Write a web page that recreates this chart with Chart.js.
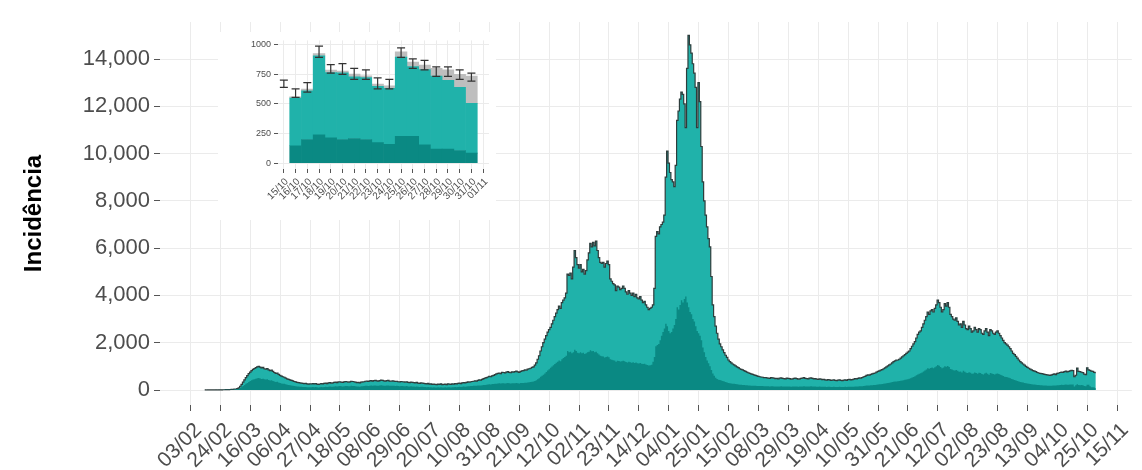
<!DOCTYPE html>
<html>
<head>
<meta charset="utf-8">
<script src="https://cdn.jsdelivr.net/npm/chart.js@4.4.1/dist/chart.umd.min.js"></script>
<style>
  html, body { margin: 0; padding: 0; background: #fff; }
  #wrap { position: relative; width: 1142px; height: 470px; overflow: hidden; }
  #main { position: absolute; left: 0; top: 0; }
  #inset { position: absolute; left: 218px; top: 32px; background: #fff; }
</style>
</head>
<body>
<div id="wrap">
  <canvas id="main" width="1142" height="470"></canvas>
  <canvas id="inset" width="278" height="188"></canvas>
</div>
<script>
// x axis counts days from 03/02/2020; one labelled tick every 3 weeks
const TICK_LABELS = ["03/02", "24/02", "16/03", "06/04", "27/04", "18/05", "08/06", "29/06", "20/07", "10/08",
  "31/08", "21/09", "12/10", "02/11", "23/11", "14/12", "04/01", "25/01", "15/02", "08/03", "29/03", "19/04",
  "10/05", "31/05", "21/06", "12/07", "02/08", "23/08", "13/09", "04/10", "25/10", "15/11"];
const TICK_STEP = 21;
const Y_TICKS = [0, 2000, 4000, 6000, 8000, 10000, 12000, 14000];
const FIRST_DAY = 10; // 13/02/2020

// daily incidence, total height of each bar (one row = one week)
const TOTAL = [
  2, 1, 3, 2, 4, 3, 5,
  4, 6, 5, 8, 7, 9, 10,
  12, 15, 14, 18, 22, 25, 30,
  35, 42, 55, 90, 160, 240, 330,
  430, 520, 610, 690, 760, 820, 870,
  910, 950, 980, 1000, 970, 940, 960,
  900, 880, 910, 850, 820, 840, 790,
  740, 700, 720, 660, 620, 590, 560,
  540, 500, 470, 450, 430, 410, 390,
  360, 340, 320, 310, 300, 290, 280,
  270, 280, 260, 250, 265, 255, 270,
  260, 275, 250, 240, 255, 270, 260,
  280, 290, 270, 300, 310, 290, 300,
  320, 330, 310, 340, 350, 330, 320,
  340, 360, 350, 330, 340, 370, 360,
  350, 330, 310, 320, 300, 330, 340,
  350, 370, 380, 360, 390, 400, 380,
  400, 410, 390, 380, 400, 420, 410,
  390, 380, 400, 410, 380, 370, 390,
  380, 360, 370, 350, 340, 360, 350,
  340, 330, 350, 320, 310, 330, 320,
  310, 300, 320, 290, 280, 300, 290,
  280, 270, 260, 280, 250, 260, 240,
  250, 240, 230, 250, 240, 260, 230,
  240, 250, 230, 260, 250, 240, 260,
  250, 270, 260, 280, 290, 270, 300,
  310, 300, 320, 340, 330, 350, 360,
  370, 390, 380, 410, 430, 420, 450,
  480, 500, 520, 550, 580, 560, 600,
  620, 650, 680, 700, 720, 690, 750,
  740, 720, 760, 780, 750, 730, 770,
  760, 780, 800, 770, 750, 790, 810,
  820, 850, 840, 880, 900, 920, 960,
  980, 1050, 1150, 1300, 1450, 1650, 1830,
  2000, 2150, 2300, 2450, 2550, 2650, 2800,
  2950, 3100, 3250, 3400, 3550, 3450, 3700,
  3800, 3900, 4100, 4900, 4850, 4950, 4700,
  5200, 5900, 5600, 5300, 5150, 5300, 5000,
  5100, 4900, 5050, 5500, 5800, 6200, 6050,
  6250, 6100, 6300, 5900, 5600, 5400, 5350,
  5400, 5200, 5350, 5450, 5300, 4700, 4600,
  4500, 4450, 4200, 4400, 4350, 4250, 4300,
  4400, 4300, 4150, 4050, 4200, 4100, 4000,
  4100, 3950, 4050, 3900, 3850, 3950, 3800,
  3700, 3750, 3600, 3500, 3400, 3450, 3500,
  3600, 4300, 6500, 6700, 6600, 6900, 7000,
  7100, 7400, 9000, 10100, 9600, 9200, 8900,
  8800, 8600, 9500, 11400, 11800, 12300, 12600,
  12500, 12100, 11100, 13600, 15000, 14600, 14250,
  13800, 13400, 12800, 11100, 13000, 12200, 10300,
  8800, 8000, 7400, 6900, 6400, 6050, 4800,
  3600, 3100, 2700, 2400, 2150, 1950, 1830,
  1700, 1580, 1470, 1380, 1270, 1200, 1150,
  1100, 1060, 1020, 980, 950, 900, 870,
  850, 820, 790, 760, 730, 700, 680,
  660, 640, 620, 600, 580, 560, 550,
  540, 520, 530, 510, 500, 490, 520,
  510, 500, 480, 490, 470, 500, 510,
  490, 480, 470, 500, 490, 480, 460,
  470, 490, 500, 480, 460, 470, 490,
  500, 520, 490, 480, 470, 500, 510,
  490, 470, 480, 460, 450, 470, 460,
  440, 450, 430, 420, 440, 430, 410,
  420, 430, 410, 400, 420, 430, 410,
  400, 420, 430, 410, 440, 450, 430,
  440, 460, 480, 470, 490, 510, 500,
  530, 560, 580, 620, 640, 630, 660,
  680, 700, 720, 760, 790, 810, 840,
  860, 900, 940, 980, 1020, 1060, 1100,
  1150, 1200, 1230, 1260, 1270, 1300, 1350,
  1400, 1450, 1500, 1550, 1600, 1650, 1750,
  1850, 1950, 2050, 2200, 2350, 2450, 2500,
  2650, 2800, 2950, 3100, 3300, 3200, 3350,
  3400, 3300, 3450, 3600, 3800, 3700, 3500,
  3300, 3400, 3650, 3550, 3700, 3500, 3200,
  3100, 3000, 2950, 3050, 2900, 2750, 2800,
  2650, 2900, 2750, 2600, 2550, 2700, 2600,
  2450, 2500, 2650, 2550, 2450, 2600, 2550,
  2400, 2350, 2500, 2600, 2450, 2300, 2550,
  2500, 2400, 2350, 2450, 2500, 2400, 2300,
  2200, 2100, 2000, 1950, 1900, 1830, 1750,
  1650, 1550, 1500, 1420, 1350, 1270, 1200,
  1150, 1100, 1050, 1000, 960, 920, 880,
  850, 820, 800, 780, 740, 720, 700,
  690, 680, 660, 650, 640, 630, 620,
  640, 660, 680, 650, 700, 720, 740,
  760, 740, 780, 800, 770, 790, 810,
  830, 820, 560, 625, 925, 785, 778,
  752, 738, 668, 652, 940, 853, 828,
  800, 787, 750, 735
];

// daily incidence, darker bottom part of each bar
const DARK = [
  1, 0, 1, 1, 2, 1, 2,
  2, 3, 2, 4, 3, 4, 5,
  6, 7, 7, 9, 11, 12, 15,
  17, 21, 27, 45, 80, 120, 165,
  215, 260, 300, 340, 380, 410, 440,
  460, 480, 500, 510, 490, 470, 480,
  450, 440, 450, 420, 400, 410, 380,
  360, 340, 350, 320, 300, 280, 270,
  260, 240, 225, 215, 205, 195, 185,
  170, 160, 150, 145, 140, 135, 130,
  125, 130, 120, 115, 122, 118, 125,
  120, 128, 115, 110, 118, 125, 120,
  130, 135, 125, 140, 145, 135, 140,
  150, 155, 145, 160, 165, 155, 150,
  160, 170, 165, 155, 160, 175, 170,
  165, 155, 145, 150, 140, 155, 160,
  165, 175, 180, 170, 185, 190, 180,
  190, 195, 185, 180, 190, 200, 195,
  185, 180, 190, 195, 180, 175, 185,
  180, 170, 175, 165, 160, 170, 165,
  160, 155, 165, 150, 145, 155, 150,
  145, 140, 150, 135, 130, 140, 135,
  130, 125, 120, 130, 115, 120, 110,
  115, 110, 105, 115, 110, 120, 105,
  110, 115, 105, 120, 115, 110, 120,
  115, 125, 120, 130, 135, 125, 140,
  145, 140, 150, 160, 155, 165, 170,
  175, 180, 175, 190, 195, 190, 200,
  210, 215, 220, 230, 240, 235, 250,
  255, 265, 270, 280, 285, 275, 290,
  285, 280, 290, 295, 285, 280, 290,
  285, 290, 300, 290, 280, 295, 300,
  300, 310, 305, 320, 330, 335, 350,
  360, 380, 410, 450, 500, 560, 600,
  650, 700, 760, 820, 880, 940, 990,
  1050, 1100, 1150, 1200, 1250, 1220, 1300,
  1350, 1400, 1450, 1650, 1600, 1620, 1550,
  1600, 1700, 1650, 1580, 1560, 1600, 1550,
  1580, 1520, 1560, 1600, 1620, 1680, 1640,
  1650, 1600, 1620, 1560, 1500, 1450, 1430,
  1420, 1380, 1400, 1420, 1390, 1300, 1280,
  1260, 1250, 1200, 1240, 1230, 1210, 1220,
  1240, 1220, 1180, 1160, 1190, 1170, 1150,
  1170, 1140, 1160, 1130, 1120, 1140, 1110,
  1100, 1110, 1080, 1060, 1040, 1050, 1070,
  1200, 1400, 1850, 1900, 1950, 2100, 2300,
  2450, 2600, 2800, 2700, 2500, 2400, 2450,
  2600, 2750, 3000, 3500, 3400, 3600, 3800,
  3700, 3850, 3950, 3700, 3500, 3300, 3200,
  3000, 2900, 2700, 2500, 2400, 2300, 2100,
  1800, 1600, 1400, 1250, 1130, 1000, 850,
  700, 600, 520, 470, 430, 420, 400,
  380, 360, 340, 320, 300, 290, 280,
  270, 260, 250, 240, 230, 225, 220,
  215, 210, 205, 200, 195, 190, 185,
  180, 178, 175, 172, 170, 168, 165,
  165, 160, 162, 158, 155, 150, 158,
  155, 152, 148, 150, 145, 152, 155,
  150, 148, 145, 152, 150, 147, 142,
  145, 150, 152, 148, 142, 145, 150,
  152, 158, 150, 148, 145, 152, 155,
  150, 145, 148, 142, 140, 145, 142,
  138, 140, 135, 132, 138, 135, 130,
  132, 135, 130, 128, 132, 135, 130,
  128, 132, 135, 130, 138, 140, 135,
  138, 142, 148, 145, 150, 156, 154,
  162, 170, 176, 186, 192, 190, 198,
  204, 210, 216, 226, 234, 240, 248,
  254, 265, 276, 288, 298, 310, 320,
  334, 348, 356, 364, 368, 376, 390,
  405, 418, 432, 446, 460, 474, 500,
  528, 555, 582, 620, 660, 690, 705,
  745, 785, 825, 865, 920, 895, 935,
  950, 925, 965, 1000, 1060, 1030, 975,
  920, 950, 1010, 985, 1020, 970, 890,
  865, 840, 825, 850, 810, 770, 785,
  745, 810, 770, 730, 715, 755, 730,
  690, 700, 740, 715, 690, 730, 715,
  675, 660, 700, 730, 690, 650, 715,
  700, 675, 660, 690, 700, 675, 650,
  620, 595, 565, 550, 540, 520, 495,
  470, 440, 425, 405, 385, 360, 342,
  328, 314, 300, 286, 275, 264, 252,
  245, 236, 230, 225, 214, 208, 202,
  200, 196, 190, 187, 184, 182, 179,
  184, 190, 196, 187, 200, 206, 212,
  218, 212, 224, 228, 220, 226, 232,
  236, 234, 147, 200, 240, 213, 200,
  208, 200, 173, 160, 227, 227, 155,
  120, 120, 107, 85
];

// inset: last days, stacked bars with error bars
const INSET_LABELS = ["15/10", "16/10", "17/10", "18/10", "19/10", "20/10", "21/10", "22/10", "23/10",
  "24/10", "25/10", "26/10", "27/10", "28/10", "29/10", "30/10", "31/10", "01/11"];
const INSET_DARK = [null, 147, 200, 240, 213, 200, 208, 200, 173, 160, 227, 227, 155, 120, 120, 107, 85, null];
const INSET_LIGHT = [null, 403, 410, 665, 552, 562, 520, 522, 475, 472, 668, 588, 635, 615, 580, 533, 420, null];
const INSET_GRAY = [null, 10, 15, 20, 20, 16, 24, 16, 20, 20, 45, 38, 38, 65, 87, 110, 230, null];
const INSET_ERR_LOW = [640, 555, 600, 893, 760, 750, 707, 707, 627, 627, 893, 800, 787, 733, 733, 707, 693, null];
const INSET_ERR_HIGH = [700, 627, 680, 987, 832, 840, 800, 787, 720, 707, 973, 880, 867, 813, 813, 787, 760, null];
const INSET_Y_TICKS = [0, 250, 500, 750, 1000];

const LIGHT = "#20b2aa";
const DARKC = "#0a8983";
const GREY = "#bebebe";
const GRID = "#ebebeb";
const TEXT = "#4d4d4d";

Chart.defaults.font.family = "'Liberation Sans', Arial, sans-serif";
Chart.defaults.color = TEXT;

const byId = (id) => document.getElementById(id);
const toPoints = (arr) => arr.map((v, i) => ({ x: FIRST_DAY + i, y: v }));

new Chart(byId("main"), {
  type: "line",
  data: {
    datasets: [
      { data: toPoints(DARK), backgroundColor: DARKC, borderWidth: 0, fill: "origin", stepped: "middle", pointRadius: 0, order: 0 },
      { data: toPoints(TOTAL), backgroundColor: LIGHT, borderColor: "#2e3d3c", borderWidth: 1.2, fill: "origin", stepped: "middle", pointRadius: 0, order: 1 }
    ]
  },
  options: {
    responsive: false,
    animation: false,
    devicePixelRatio: 1,
    layout: { padding: { top: 22, right: 2 } },
    plugins: { legend: { display: false }, tooltip: { enabled: false } },
    scales: {
      x: {
        type: "linear",
        min: -21.4,
        max: 661.3,
        afterBuildTicks: (scale) => { scale.ticks = TICK_LABELS.map((_, i) => ({ value: i * TICK_STEP })); },
        afterFit: (scale) => { scale.height = 65; },
        ticks: {
          autoSkip: false, minRotation: 45, maxRotation: 45, padding: 7, labelOffset: 8,
          font: { size: 21 }, color: TEXT,
          callback: (value, index) => TICK_LABELS[index]
        },
        grid: { color: GRID, tickColor: "#555", tickLength: 6 },
        border: { display: false }
      },
      y: {
        min: -634,
        max: 15565,
        afterBuildTicks: (scale) => { scale.ticks = Y_TICKS.map((v) => ({ value: v })); },
        afterFit: (scale) => { scale.width = 160; },
        ticks: {
          padding: 4, font: { size: 22 }, color: TEXT,
          callback: (value) => value.toLocaleString("en-US")
        },
        grid: { color: GRID, tickColor: "#555", tickLength: 6 },
        border: { display: false },
        title: {
          display: true, text: "Incidência", color: "#000",
          font: { size: 24, weight: "bold" }, padding: { top: 20, bottom: 0 }
        }
      }
    }
  }
});

const errorBars = {
  id: "errorBars",
  afterDatasetsDraw(chart) {
    const { ctx, scales: { x, y } } = chart;
    ctx.save();
    ctx.strokeStyle = "#333";
    ctx.lineWidth = 1.2;
    INSET_ERR_LOW.forEach((lo, i) => {
      const hi = INSET_ERR_HIGH[i];
      if (lo == null || hi == null) return;
      const px = x.getPixelForValue(i);
      const y0 = y.getPixelForValue(lo);
      const y1 = y.getPixelForValue(hi);
      ctx.beginPath();
      ctx.moveTo(px, y0); ctx.lineTo(px, y1);
      ctx.moveTo(px - 4, y0); ctx.lineTo(px + 4, y0);
      ctx.moveTo(px - 4, y1); ctx.lineTo(px + 4, y1);
      ctx.stroke();
    });
    ctx.restore();
  }
};

new Chart(byId("inset"), {
  type: "bar",
  data: {
    labels: INSET_LABELS,
    datasets: [
      { data: INSET_DARK, backgroundColor: DARKC },
      { data: INSET_LIGHT, backgroundColor: LIGHT },
      { data: INSET_GRAY, backgroundColor: GREY }
    ]
  },
  plugins: [errorBars],
  options: {
    responsive: false,
    animation: false,
    devicePixelRatio: 1,
    layout: { padding: { top: 2, right: 7 } },
    datasets: { bar: { barPercentage: 1, categoryPercentage: 1, borderWidth: 0 } },
    plugins: { legend: { display: false }, tooltip: { enabled: false } },
    scales: {
      x: {
        stacked: true,
        afterFit: (scale) => { scale.height = 51; },
        ticks: { autoSkip: false, minRotation: 45, maxRotation: 45, padding: 3, labelOffset: 3, font: { size: 10 }, color: TEXT },
        grid: { offset: false, color: GRID, tickColor: "#555", tickLength: 4 },
        border: { display: false }
      },
      y: {
        stacked: true,
        min: -49,
        max: 1036,
        afterBuildTicks: (scale) => { scale.ticks = INSET_Y_TICKS.map((v) => ({ value: v })); },
        afterFit: (scale) => { scale.width = 60; },
        ticks: { padding: 3, font: { size: 9 }, color: TEXT, callback: (value) => String(value) },
        grid: { color: GRID, tickColor: "#555", tickLength: 4 },
        border: { display: false }
      }
    }
  }
});
</script>
</body>
</html>
